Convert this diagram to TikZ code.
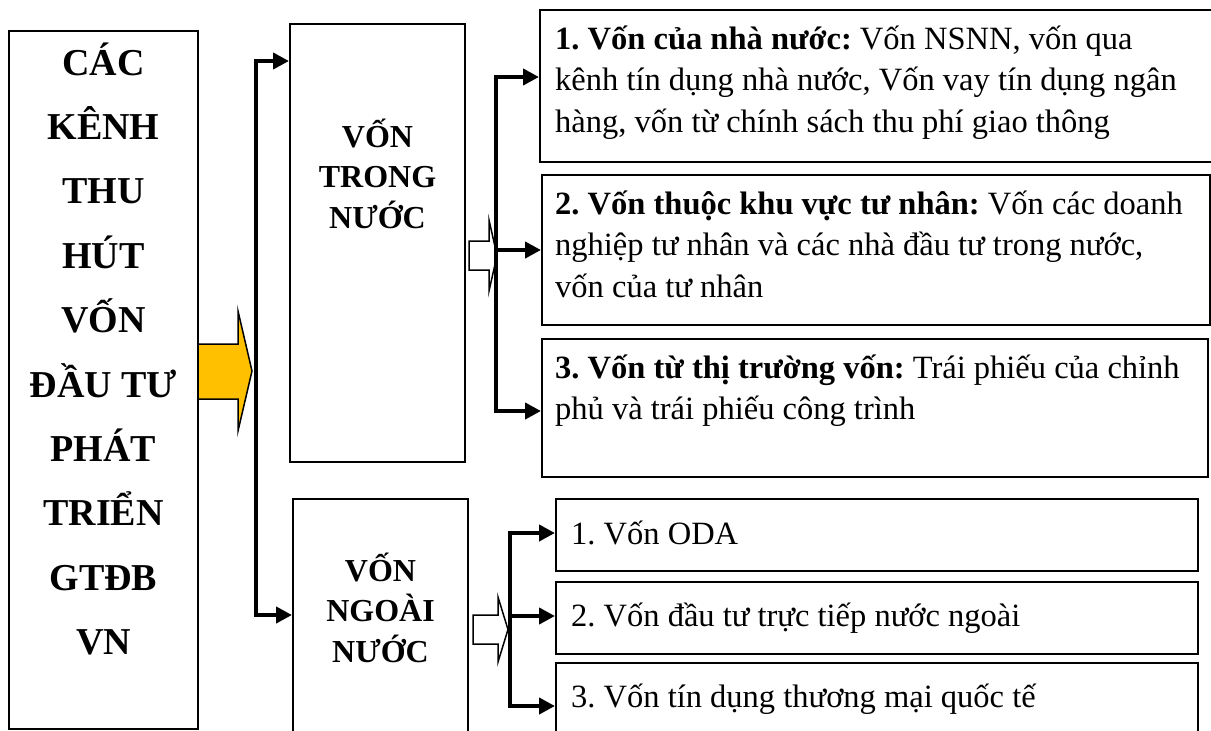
\documentclass[tikz,border=0pt]{standalone}
\usepackage{fontspec}
\setmainfont{Liberation Serif}
\usetikzlibrary{arrows.meta}

\definecolor{arrowyellow}{HTML}{FFC000}

\begin{document}
\begin{tikzpicture}[
    x=1pt,
    y=-1pt,
    >={Triangle[length=16pt,width=16pt]},
    box/.style={
        draw=black,
        line width=2pt,
        rectangle,
        inner sep=0pt
    },
    srctext/.style={
        font=\fontsize{38}{64.4}\selectfont\bfseries\frenchspacing,
        text width=189pt,
        align=flush center,
        inner sep=0pt,
        anchor=base
    },
    grouptext/.style={
        font=\fontsize{32}{40.5}\selectfont\bfseries\frenchspacing,
        text width=175pt,
        align=flush center,
        inner sep=0pt,
        anchor=base
    },
    itemtext/.style={
        font=\fontsize{32.5}{41.5}\selectfont\frenchspacing,
        text width=660pt,
        align=flush left,
        inner sep=0pt,
        anchor=base west
    },
    link/.style={
        ->,
        line width=4pt
    },
    bigarrow/.style={
        draw=black,
        line width=1.5pt,
        fill=arrowyellow
    },
    hollowarrow/.style={
        draw=black,
        line width=1.5pt,
        fill=white
    }
]

\useasboundingbox (0,0) rectangle (1211,731);
\clip (0,0) rectangle (1211,731);

% left column
\node[box, minimum width=189pt, minimum height=698pt] (src) at (103.5,380) {};
\node[srctext] (srcname) at ([yshift=-45pt]src.north)
    {CÁC\\KÊNH\\THU\\HÚT\\VỐN\\ĐẦU TƯ\\PHÁT\\TRIỂN\\GTĐB\\VN};

% two groups
\node[box, minimum width=175pt, minimum height=438pt] (tv) at (377.5,243) {};
\node[grouptext] (tvname) at ([yshift=-124pt]tv.north)
    {VỐN\\TRONG\\NƯỚC};

\node[box, minimum width=175pt, minimum height=250pt] (nv) at (380.5,624) {};
\node[grouptext] (nvname) at ([yshift=-83pt]nv.north)
    {VỐN\\NGOÀI\\NƯỚC};

% domestic sources
\node[box, minimum width=676pt, minimum height=152pt] (r1) at (878,86) {};
\node[itemtext] (r1text) at ([shift={(16pt,-40pt)}]r1.north west)
    {\textbf{1. Vốn của nhà nước:} Vốn NSNN, vốn qua\\
     kênh tín dụng nhà nước, Vốn vay tín dụng ngân\\
     hàng, vốn từ chính sách thu phí giao thông};

\node[box, minimum width=668pt, minimum height=150pt] (r2) at (876,250) {};
\node[itemtext] (r2text) at ([shift={(14pt,-40pt)}]r2.north west)
    {\textbf{2. Vốn thuộc khu vực tư nhân:} Vốn các doanh\\
     nghiệp tư nhân và các nhà đầu tư trong nước,\\
     vốn của tư nhân};

\node[box, minimum width=666pt, minimum height=138pt] (r3) at (875,408) {};
\node[itemtext] (r3text) at ([shift={(14pt,-40pt)}]r3.north west)
    {\textbf{3. Vốn từ thị trường vốn:} Trái phiếu của chỉnh\\
     phủ và trái phiếu công trình};

% foreign sources
\node[box, minimum width=642pt, minimum height=72pt] (q1) at (877,535) {};
\node[itemtext] (q1text) at ([shift={(16pt,-46pt)}]q1.north west)
    {1. Vốn ODA};

\node[box, minimum width=642pt, minimum height=72pt] (q2) at (877,618) {};
\node[itemtext] (q2text) at ([shift={(16pt,-45pt)}]q2.north west)
    {2. Vốn đầu tư trực tiếp nước ngoài};

\node[box, minimum width=642pt, minimum height=110pt] (q3) at (877,718) {};
\node[itemtext] (q3text) at ([shift={(16pt,-45pt)}]q3.north west)
    {3. Vốn tín dụng thương mại quốc tế};

% split points
\coordinate (splitL) at (256,371);
\coordinate (splitT) at (496,250);
\coordinate (splitB) at (510,616);

% block arrows
\draw[bigarrow]
    (198,344) -- (238,344) -- (238,311) -- (252,371) --
    (238,431) -- (238,399) -- (198,399) -- cycle;

\draw[hollowarrow]
    (469,241) -- (489,241) -- (489,220) -- (497,255.5) --
    (489,291) -- (489,270) -- (469,270) -- cycle;

\draw[hollowarrow]
    (473,615) -- (498,615) -- (498,597) -- (508,629.5) --
    (498,662) -- (498,644) -- (473,644) -- cycle;

% connectors
\draw[link] (splitL) |- ([yshift=-38pt]tv.north west);
\draw[link] (splitL) |- ([yshift=-117pt]nv.north west);

\draw[link] (splitT) |- ([yshift=-68pt]r1.north west);
\draw[link] (splitT) -- (r2.west);
\draw[link] (splitT) |- ([yshift=-73pt]r3.north west);

\draw[link] (splitB) |- ([yshift=-35pt]q1.north west);
\draw[link] (splitB) -- (splitB -| q2.west);
\draw[link] (splitB) |- ([yshift=-44pt]q3.north west);

\end{tikzpicture}
\end{document}
